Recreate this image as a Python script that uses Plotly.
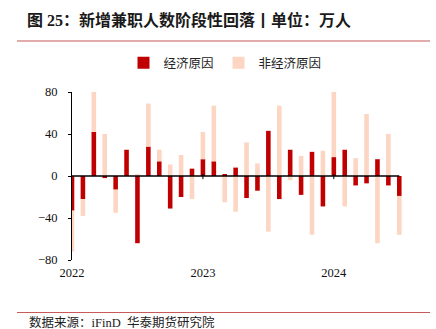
import plotly.graph_objects as go

months = [f"{y}-{m:02d}" for y in (2022, 2023, 2024) for m in range(1, 13)][:31]
econ = [-33, -22, 42, -2, -13, 25, -64, 28, 14, -31, -20, 7, 16, 14, 1, 8,
        -21, -14, 43, -22, 25, -18, 23, -29, 18, 25, -9, -7, 16, -9, -19]
non_econ = [-39, -16, 38, 40, -22, 0, 2, 41, 11, 11, 20, -22, 26, 53, -25, -34,
            32, 12, -53, 67, -4, 19, -56, 24, 62, -29, 17, 59, -64, 40, -37]
year_ticks = [0, 12, 24]
year_labels = ["2022", "2023", "2024"]
y_ticks = [-80, -40, 0, 40, 80]

xs = list(range(len(months)))
RED = "#C00000"
PINK = "#FCD5C3"
SERIF = "Liberation Serif, Noto Sans CJK SC"
CJK = "Noto Sans CJK SC, Liberation Serif"

W, H = 436, 329
ML, MR, MT, MB = 72, 34, 92, 69
PW, PH = W - ML - MR, H - MT - MB


def px_x(p):
    return (p - ML) / PW


def px_y(p):
    return (H - p - MB) / PH


fig = go.Figure()
fig.add_trace(go.Bar(x=xs, y=econ, name="经济原因", marker_color=RED,
                     marker_line_width=0, width=0.42, customdata=months))
fig.add_trace(go.Bar(x=xs, y=non_econ, name="非经济原因", marker_color=PINK,
                     marker_line_width=0, width=0.42, customdata=months))

# decorative rules under the title and above the source note
rules = []
for py in (41, 312.5):
    rules.append(dict(type="rect", xref="paper", yref="paper",
                      x0=px_x(17), x1=px_x(430), y0=px_y(py - 0.6), y1=px_y(py + 0.6),
                      fillcolor="#C85A5A", line=dict(width=0), layer="above"))
# horizontal axis line at zero (category axis crossing)
rules.append(dict(type="line", xref="x", yref="y", x0=xs[0], x1=xs[-1], y0=0, y1=0,
                  line=dict(color="black", width=1.3), layer="above"))
for tv in year_ticks[1:]:
    rules.append(dict(type="line", xref="x", yref="y", x0=tv, x1=tv, y0=-3, y1=2,
                      line=dict(color="black", width=1), layer="above"))

fig.update_layout(
    width=W, height=H,
    margin=dict(l=ML, r=MR, t=MT, b=MB),
    barmode="relative",
    paper_bgcolor="white", plot_bgcolor="white",
    showlegend=True,
    shapes=rules,
    legend=dict(orientation="h", x=px_x(225), xanchor="center", y=px_y(63), yanchor="middle",
                font=dict(family=CJK, size=12.5, color="#222"),
                itemwidth=30, traceorder="normal", bgcolor="rgba(0,0,0,0)"),
    title=dict(text="<b>图 25：新增兼职人数阶段性回落丨单位：万人</b>",
               x=27 / W, xanchor="left", xref="container",
               y=1 - 20 / H, yanchor="middle", yref="container",
               font=dict(family=SERIF, size=16, color="#1a1a1a")),
    xaxis=dict(range=[0, len(months) - 1 + 0.25], tickvals=year_ticks, ticktext=year_labels,
               showline=False, ticks="", showgrid=False, zeroline=False,
               ticklabelstandoff=3,
               tickfont=dict(family=SERIF, size=12.5, color="#111")),
    yaxis=dict(range=[-80, 80], tickvals=y_ticks, showline=True, linecolor="black",
               linewidth=1, ticks="outside", ticklen=3, tickcolor="black",
               showgrid=False, zeroline=False, ticklabelstandoff=8,
               tickfont=dict(family=SERIF, size=12.5, color="#111")),
)

fig.add_annotation(text="数据来源：iFinD  华泰期货研究院", xref="paper", yref="paper",
                   x=px_x(27), xanchor="left",
                   y=px_y(322), yanchor="middle", showarrow=False,
                   font=dict(family=SERIF, size=12.5, color="#222"))

fig.write_html("out.html")
